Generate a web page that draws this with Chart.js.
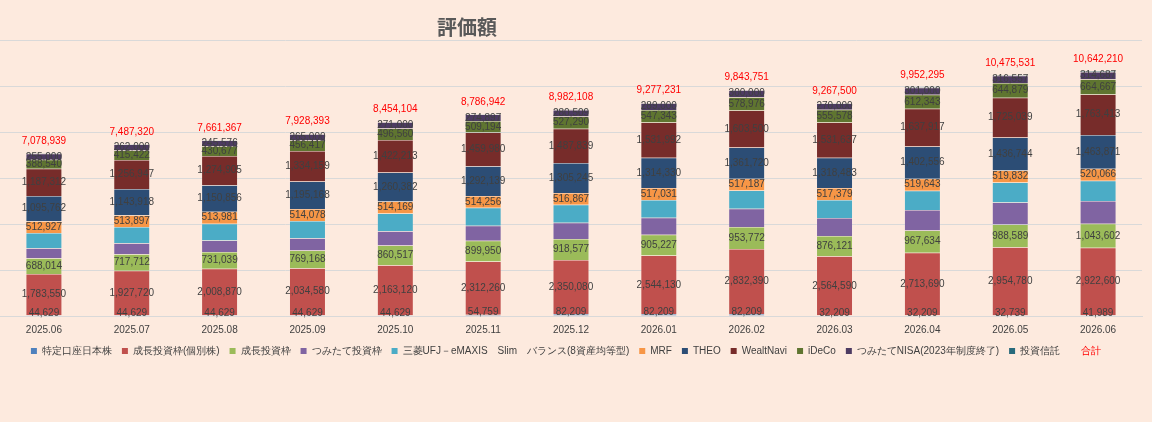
<script src="https://cdn.jsdelivr.net/npm/chart.js@4"></script>
<style>html,body{margin:0;background:#fdeade;}#w{width:1152px;height:422px;}</style>
<div id="w"><canvas id="c"></canvas></div>
<script>
var months = ["2025.06","2025.07","2025.08","2025.09","2025.10","2025.11","2025.12","2026.01","2026.02","2026.03","2026.04","2026.05","2026.06"];
var tokutei = [44629,44629,44629,44629,44629,54759,82209,82209,82209,32209,32209,32739,41989];
var seichoKobetsu = [1783550,1927720,2008870,2034580,2163120,2312260,2350080,2544130,2832390,2564590,2713690,2954780,2922600];
var seicho = [688014,717712,731039,769168,860517,899950,918577,905227,953772,876121,967634,988589,1043602];
var tsumitate = [430000,470000,500000,530000,620000,660000,700000,740000,800000,790000,900000,960000,990000];
var emaxis = [663205,705075,730834,755194,771514,779507,783492,775969,783997,781503,835303,866372,887315];
var mrf = [512927,513897,513981,514078,514169,514256,516867,517031,517187,517379,519643,519832,520066];
var theo = [1095762,1143918,1150856,1195168,1260382,1292139,1305245,1314330,1361720,1318483,1402556,1436744,1463871];
var wealth = [1187312,1256947,1274905,1334159,1422213,1459980,1487839,1531992,1603500,1531637,1637917,1725039,1763413];
var ideco = [388540,415422,430677,456417,496560,509194,527290,547343,578976,555578,612343,644879,664667];
var nisa = [255000,262000,245576,265000,271000,274897,280509,289000,300000,270000,301000,316557,314687];
var toshin = [30000,30000,30000,30000,30000,30000,30000,30000,30000,30000,30000,30000,30000];
var totals = [7078939,7487320,7661367,7928393,8454104,8786942,8982108,9277231,9843751,9267500,9952295,10475531,10642210];

var series = [
  ["特定口座日本株", tokutei, "#4f81bd", true],
  ["成長投資枠(個別株)", seichoKobetsu, "#c0504d", true],
  ["成長投資枠", seicho, "#9bbb59", true],
  ["つみたて投資枠", tsumitate, "#8064a2", false],
  ["三菱UFJ－eMAXIS　Slim　バランス(8資産均等型)", emaxis, "#4bacc6", false],
  ["MRF", mrf, "#f79646", true],
  ["THEO", theo, "#2c4d75", true],
  ["WealtNavi", wealth, "#772c2a", true],
  ["iDeCo", ideco, "#5f7530", true],
  ["つみたてNISA(2023年制度終了)", nisa, "#4d3b62", true],
  ["投資信託", toshin, "#276a7c", false]
];
var fmt = function(v){ return v.toLocaleString("en-US"); };

var labelPlugin = {
  id: "labels",
  afterDatasetsDraw: function(chart) {
    var ctx = chart.ctx;
    ctx.save();
    ctx.textAlign = "center";
    ctx.textBaseline = "middle";
    ctx.font = "10px 'Liberation Sans', Arial";
    chart.data.datasets.forEach(function(ds, i) {
      if (!series[i][3]) return;
      chart.getDatasetMeta(i).data.forEach(function(bar, j) {
        var y = i === 0 ? bar.y - 2 : (bar.y + bar.base) / 2;
        ctx.fillStyle = "#404040";
        ctx.fillText(fmt(ds.data[j]), bar.x, y);
      });
    });
    var last = chart.getDatasetMeta(series.length - 1).data;
    ctx.fillStyle = "#ff0000";
    last.forEach(function(bar, j) {
      ctx.fillText(fmt(totals[j]), bar.x, bar.y - 12);
    });
    ctx.font = "bold 20px 'Noto Sans CJK JP'";
    ctx.fillStyle = "#595959";
    ctx.fillText("評価額", 467, 27);
    ctx.restore();
  }
};

new Chart(document.getElementById("c"), {
  type: "bar",
  data: {
    labels: months,
    datasets: series.map(function(s) {
      return { label: s[0], data: s[1], backgroundColor: s[2], borderColor: "rgba(255,255,255,0.4)", borderWidth: 0.5, categoryPercentage: 1, barPercentage: 0.41 };
    })
  },
  options: {
    responsive: true, maintainAspectRatio: false, animation: false,
    layout: { padding: { top: 40, left: -10, right: 10, bottom: 26 } },
    scales: {
      x: { stacked: true, grid: { display: false }, border: { color: "#d9d9d9" },
           ticks: { color: "#404040", font: { size: 10 }, padding: 0 } },
      y: { stacked: true, min: 0, max: 12000000, ticks: { display: false, stepSize: 2000000 },
           grid: { color: "#d9d9d9" }, border: { display: false } }
    },
    plugins: {
      tooltip: { enabled: false },
      legend: {
        position: "bottom",
        labels: {
          boxWidth: 6, boxHeight: 6, padding: 10, color: "#404040", font: { size: 10 },
          generateLabels: function(chart) {
            var items = Chart.defaults.plugins.legend.labels.generateLabels(chart);
            items.forEach(function(it){ it.lineWidth = 0; });
            items.push({ text: "合計", fillStyle: "rgba(0,0,0,0)", strokeStyle: "rgba(0,0,0,0)", lineWidth: 0, fontColor: "#ff0000", hidden: false, datasetIndex: -1 });
            return items;
          }
        }
      }
    }
  },
  plugins: [labelPlugin, { id: "legendGap", beforeInit: function(chart) {
    var orig = chart.legend && chart.legend.fit;
  }, afterInit: function(chart) {
    var fit = chart.legend.fit;
    chart.legend.fit = function() { fit.bind(chart.legend)(); this.height += 30; };
  } }]
});
</script>
